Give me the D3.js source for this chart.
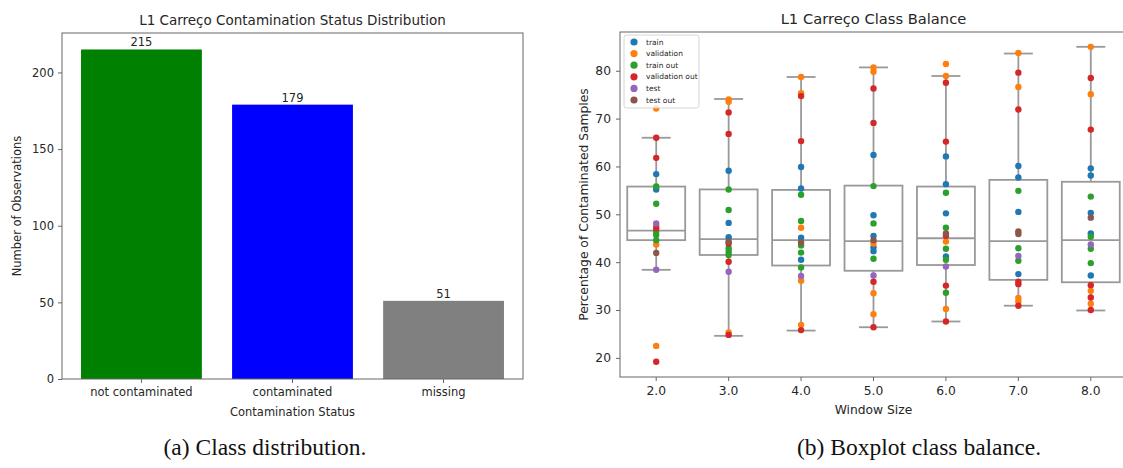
<!DOCTYPE html>
<html>
<head>
<meta charset="utf-8">
<script src="https://cdn.jsdelivr.net/npm/d3@7"></script>
<style>
  body { margin: 0; background: #fff; }
  svg { display: block; font-family: "DejaVu Sans", sans-serif; }
</style>
</head>
<body>
<svg id="fig" width="1123" height="468"></svg>
<script>
// ---- data: left panel (class distribution) ----
const statusCategories = ["not contaminated", "contaminated", "missing"];
const statusCounts = [215, 179, 51];
const statusTicks = [0, 50, 100, 150, 200];

// ---- data: right panel (class balance per window size) ----
const windowSizes = ["2.0", "3.0", "4.0", "5.0", "6.0", "7.0", "8.0"];
const splitNames = ["train", "validation", "train out", "validation out", "test", "test out"];
const percentTicks = [20, 30, 40, 50, 60, 70, 80];

const boxQ1 = [44.6, 41.5, 39.3, 38.2, 39.4, 36.3, 35.8];
const boxMedian = [46.6, 44.8, 44.6, 44.4, 45.0, 44.4, 44.6];
const boxQ3 = [55.8, 55.2, 55.1, 56.0, 55.8, 57.2, 56.8];
const whiskerLow = [38.4, 24.6, 25.7, 26.4, 27.6, 30.9, 29.9];
const whiskerHigh = [66.0, 74.1, 78.7, 80.7, 78.9, 83.6, 85.0];

// sample points, [split, percentage], one list per window size
// split codes: tr train, va validation, to train out, vo validation out, te test, xo test out
const pointsW2 = [["va",72.1],["vo",66.0],["vo",61.8],["tr",58.4],["to",55.8],["tr",55.2],["to",52.2],["te",48.1],["va",47.6],["vo",47.1],["to",46.4],["to",45.7],["to",44.6],["va",43.7],["xo",41.9],["te",38.4],["va",22.5],["vo",19.2]];
const pointsW3 = [["va",74.0],["va",73.5],["vo",71.3],["vo",66.8],["tr",59.1],["to",55.2],["to",50.9],["tr",48.2],["tr",45.2],["xo",44.3],["vo",43.9],["to",42.9],["to",42.2],["to",41.5],["vo",40.1],["te",38.0],["va",25.3],["vo",24.8]];
const pointsW4 = [["va",78.7],["va",75.3],["vo",74.7],["vo",65.3],["tr",59.9],["tr",55.4],["to",54.1],["to",48.6],["va",47.2],["tr",45.1],["xo",44.1],["to",43.5],["to",42.0],["tr",40.5],["to",38.9],["te",37.1],["va",36.1],["va",26.9],["vo",25.8]];
const pointsW5 = [["va",80.7],["va",79.8],["vo",76.3],["vo",69.1],["tr",62.4],["to",55.9],["tr",49.8],["to",48.1],["tr",45.5],["xo",44.6],["va",43.9],["tr",43.1],["tr",42.3],["to",40.7],["te",37.2],["vo",35.9],["va",33.5],["va",29.1],["vo",26.4]];
const pointsW6 = [["va",81.4],["va",78.9],["vo",77.5],["vo",65.2],["tr",62.1],["tr",56.3],["to",54.5],["tr",50.2],["to",47.2],["xo",46.0],["vo",45.5],["va",44.3],["to",42.8],["tr",41.2],["to",40.5],["te",39.1],["vo",35.1],["to",33.6],["va",30.2],["vo",27.6]];
const pointsW7 = [["va",83.7],["vo",79.6],["va",76.6],["vo",71.9],["tr",60.1],["tr",57.7],["to",54.9],["tr",50.5],["xo",46.4],["xo",45.9],["to",42.9],["te",41.3],["to",40.3],["tr",37.5],["vo",35.9],["vo",35.4],["va",32.5],["va",31.8],["vo",30.9]];
const pointsW8 = [["va",85.0],["vo",78.5],["va",75.1],["vo",67.7],["tr",59.6],["tr",58.1],["to",53.7],["tr",50.3],["xo",49.3],["tr",46.0],["to",45.3],["te",43.7],["to",42.8],["to",39.8],["tr",37.2],["vo",35.2],["va",34.0],["vo",32.6],["va",31.3],["vo",30.0]];
const pointsByWindow = [pointsW2, pointsW3, pointsW4, pointsW5, pointsW6, pointsW7, pointsW8];

// ---- styles ----
const barColors = ["#008000", "#0000ff", "#808080"];
const splitCodes = ["tr", "va", "to", "vo", "te", "xo"];
const splitColors = ["#1f77b4", "#ff7f0e", "#2ca02c", "#d62728", "#9467bd", "#8c564b"];
const spineColor = "#666";
const textColor = "#262626";
const boxColor = "#999";

const svg = d3.select("#fig");
svg.append("rect").attr("width", 1123).attr("height", 468).attr("fill", "#fff");

function styleAxis(g, fontSize) {
  g.select(".domain").remove();
  g.selectAll(".tick line").attr("stroke", spineColor);
  g.selectAll(".tick text").attr("fill", textColor).style("font-size", fontSize + "px")
    .style("font-family", "DejaVu Sans");
}

// ================= left panel =================
const L = {left: 62, top: 33, right: 523, bottom: 379};

const xBar = d3.scaleBand()
  .domain(statusCategories)
  .range([L.left, L.right])
  .paddingInner(0.2)
  .paddingOuter(0.126);

const yBar = d3.scaleLinear()
  .domain([0, 215 * 1.05])
  .range([L.bottom, L.top]);

const left = svg.append("g");

left.selectAll("rect.bar")
  .data(statusCategories)
  .enter()
  .append("rect")
  .attr("class", "bar")
  .attr("x", d => xBar(d))
  .attr("y", (d, i) => yBar(statusCounts[i]))
  .attr("width", xBar.bandwidth())
  .attr("height", (d, i) => yBar(0) - yBar(statusCounts[i]))
  .attr("fill", (d, i) => barColors[i]);

// value labels over the bars
left.selectAll("text.val")
  .data(statusCategories)
  .enter()
  .append("text")
  .attr("x", d => xBar(d) + xBar.bandwidth() / 2)
  .attr("y", (d, i) => yBar(statusCounts[i]) - 3)
  .attr("text-anchor", "middle")
  .attr("fill", textColor)
  .style("font-size", "11.5px")
  .text((d, i) => statusCounts[i]);

left.append("g")
  .attr("transform", "translate(" + L.left + ",0)")
  .call(d3.axisLeft(yBar).tickValues(statusTicks).tickSize(4).tickPadding(4))
  .call(g => styleAxis(g, 11.5));

left.append("g")
  .attr("transform", "translate(0," + L.bottom + ")")
  .call(d3.axisBottom(xBar).tickSize(4).tickPadding(5))
  .call(g => styleAxis(g, 11.5));

left.append("rect")
  .attr("x", L.left).attr("y", L.top)
  .attr("width", L.right - L.left).attr("height", L.bottom - L.top)
  .attr("fill", "none").attr("stroke", spineColor).attr("stroke-width", 1);

left.append("text")
  .attr("x", (L.left + L.right) / 2).attr("y", 25)
  .attr("text-anchor", "middle").attr("fill", textColor)
  .style("font-size", "13.5px")
  .text("L1 Carreço Contamination Status Distribution");

left.append("text")
  .attr("x", (L.left + L.right) / 2).attr("y", 416)
  .attr("text-anchor", "middle").attr("fill", textColor)
  .style("font-size", "11.5px")
  .text("Contamination Status");

left.append("text")
  .attr("transform", "translate(21," + (L.top + L.bottom) / 2 + ") rotate(-90)")
  .attr("text-anchor", "middle").attr("fill", textColor)
  .style("font-size", "11.5px")
  .text("Number of Observations");

// ================= right panel =================
const R = {left: 620, top: 32, right: 1127, bottom: 377};

const xWin = d3.scaleBand()
  .domain(windowSizes)
  .range([R.left, R.right])
  .padding(0);

const yPct = d3.scaleLinear()
  .domain([16.0, 88.1])
  .range([R.bottom, R.top]);

const right = svg.append("g");
const boxW = xWin.bandwidth() * 0.8;
const capW = boxW * 0.5;

const boxes = right.selectAll("g.box")
  .data(windowSizes)
  .enter()
  .append("g")
  .attr("class", "box")
  .attr("transform", d => "translate(" + (xWin(d) + xWin.bandwidth() / 2) + ",0)");

// whiskers
boxes.append("line")
  .attr("x1", 0).attr("x2", 0)
  .attr("y1", (d, i) => yPct(boxQ3[i])).attr("y2", (d, i) => yPct(whiskerHigh[i]));
boxes.append("line")
  .attr("x1", 0).attr("x2", 0)
  .attr("y1", (d, i) => yPct(boxQ1[i])).attr("y2", (d, i) => yPct(whiskerLow[i]));
// caps
boxes.append("line")
  .attr("x1", -capW / 2).attr("x2", capW / 2)
  .attr("y1", (d, i) => yPct(whiskerHigh[i])).attr("y2", (d, i) => yPct(whiskerHigh[i]));
boxes.append("line")
  .attr("x1", -capW / 2).attr("x2", capW / 2)
  .attr("y1", (d, i) => yPct(whiskerLow[i])).attr("y2", (d, i) => yPct(whiskerLow[i]));
// box
boxes.append("rect")
  .attr("x", -boxW / 2)
  .attr("y", (d, i) => yPct(boxQ3[i]))
  .attr("width", boxW)
  .attr("height", (d, i) => yPct(boxQ1[i]) - yPct(boxQ3[i]))
  .attr("fill", "#fff");
// median
boxes.append("line")
  .attr("x1", -boxW / 2).attr("x2", boxW / 2)
  .attr("y1", (d, i) => yPct(boxMedian[i])).attr("y2", (d, i) => yPct(boxMedian[i]));

boxes.selectAll("line, rect")
  .attr("stroke", boxColor)
  .attr("stroke-width", 1.8);

// strip points, drawn split by split like a hue-grouped stripplot
const flatPoints = [];
splitCodes.forEach(code => {
  pointsByWindow.forEach((pts, wi) => {
    pts.filter(p => p[0] === code).forEach(p => flatPoints.push({win: windowSizes[wi], split: code, value: p[1]}));
  });
});

right.selectAll("circle.pt")
  .data(flatPoints)
  .enter()
  .append("circle")
  .attr("class", "pt")
  .attr("cx", d => xWin(d.win) + xWin.bandwidth() / 2)
  .attr("cy", d => yPct(d.value))
  .attr("r", 3.2)
  .attr("fill", d => splitColors[splitCodes.indexOf(d.split)]);

right.append("g")
  .attr("transform", "translate(" + R.left + ",0)")
  .call(d3.axisLeft(yPct).tickValues(percentTicks).tickSize(4).tickPadding(5))
  .call(g => styleAxis(g, 12.3));

right.append("g")
  .attr("transform", "translate(0," + R.bottom + ")")
  .call(d3.axisBottom(xWin).tickSize(4).tickPadding(5))
  .call(g => styleAxis(g, 12.3));

right.append("rect")
  .attr("x", R.left).attr("y", R.top)
  .attr("width", R.right - R.left).attr("height", R.bottom - R.top)
  .attr("fill", "none").attr("stroke", spineColor).attr("stroke-width", 1);

// legend
const legend = right.append("g").attr("transform", "translate(624,35)");
legend.append("rect")
  .attr("width", 75).attr("height", 73).attr("rx", 2.5)
  .attr("fill", "#fff").attr("fill-opacity", 0.8)
  .attr("stroke", "#ccc").attr("stroke-width", 0.8);
const items = legend.selectAll("g.item")
  .data(splitNames)
  .enter()
  .append("g")
  .attr("transform", (d, i) => "translate(10," + (7 + i * 11.6) + ")");
items.append("circle").attr("r", 3.6).attr("fill", (d, i) => splitColors[i]);
items.append("text")
  .attr("x", 12).attr("y", 2.6)
  .attr("fill", textColor)
  .style("font-size", "7.5px")
  .text(d => d);

right.append("text")
  .attr("x", (R.left + R.right) / 2).attr("y", 24)
  .attr("text-anchor", "middle").attr("fill", textColor)
  .style("font-size", "14.7px")
  .text("L1 Carreço Class Balance");

right.append("text")
  .attr("x", (R.left + R.right) / 2).attr("y", 414)
  .attr("text-anchor", "middle").attr("fill", textColor)
  .style("font-size", "12.3px")
  .text("Window Size");

right.append("text")
  .attr("transform", "translate(588," + (R.top + R.bottom) / 2 + ") rotate(-90)")
  .attr("text-anchor", "middle").attr("fill", textColor)
  .style("font-size", "12.3px")
  .text("Percentage of Contaminated Samples");

// ================= sub-captions =================
svg.append("text")
  .attr("x", 265).attr("y", 455)
  .attr("text-anchor", "middle").attr("fill", "#111")
  .style("font-family", "Liberation Serif, serif").style("font-size", "23.5px")
  .text("(a)  Class distribution.");

svg.append("text")
  .attr("x", 919).attr("y", 455)
  .attr("text-anchor", "middle").attr("fill", "#111")
  .style("font-family", "Liberation Serif, serif").style("font-size", "23.5px")
  .text("(b)  Boxplot class balance.");
</script>
</body>
</html>
